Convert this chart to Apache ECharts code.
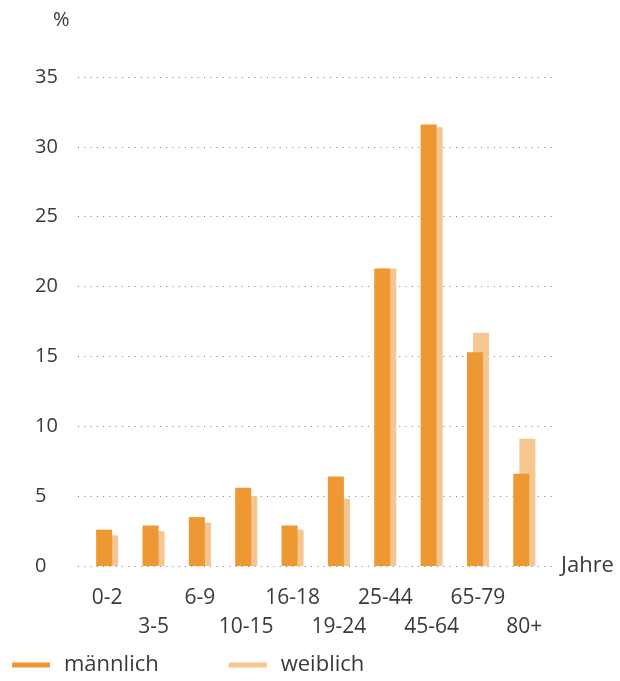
<!DOCTYPE html>
<html>
<head>
<meta charset="utf-8">
<script src="https://cdn.jsdelivr.net/npm/echarts@6/dist/echarts.min.js"></script>
<style>
  html, body { margin: 0; padding: 0; background: #fff; }
  #chart { width: 620px; height: 681px; }
</style>
</head>
<body>
<div id="chart"></div>
<script>
// Altersgruppen (Jahre)
const categories = ['0-2', '3-5', '6-9', '10-15', '16-18', '19-24', '25-44', '45-64', '65-79', '80+'];
// Anteile in %
const maleShares   = [2.6, 2.9, 3.5, 5.6, 2.9, 6.4, 21.3, 31.6, 15.3, 6.6];
const femaleShares = [2.2, 2.5, 3.1, 5.0, 2.6, 4.8, 21.3, 31.4, 16.7, 9.1];
const seriesNames = ['männlich', 'weiblich'];
const yMin = 0, yMax = 35, yStep = 5;

const FONT = '"Open Sans", "Noto Sans", sans-serif';
const TEXT = '#3a3a3a';
const MALE = '#EE9834';
const FEMALE = '#F6C690';

const chart = echarts.init(document.getElementById('chart'), null, { renderer: 'canvas' });

chart.setOption({
  animation: false,
  backgroundColor: '#ffffff',
  textStyle: { fontFamily: FONT },
  graphic: [{
    type: 'text', left: 53, top: 10,
    style: { text: '%', fontSize: 20, fontFamily: FONT, fill: TEXT }
  }],
  legend: {
    left: 12, top: 654, padding: 0,
    itemWidth: 38, itemHeight: 5, itemGap: 70,
    icon: 'rect',
    textStyle: { fontSize: 22, color: TEXT, fontFamily: FONT, padding: [0, 0, 0, 9] },
    data: seriesNames
  },
  grid: [
    // background grid: dotted gridlines and value labels
    { left: 78, right: 67, top: 77, bottom: 115 },
    // bars
    { left: 84, right: 72.5, top: 77, bottom: 115 }
  ],
  xAxis: [
    {
      type: 'category', gridIndex: 0, data: categories,
      axisLine: { show: false }, axisTick: { show: false }, axisLabel: { show: false },
      name: 'Jahre', nameLocation: 'end', nameGap: 8,
      nameTextStyle: { fontSize: 22, color: TEXT, fontFamily: FONT, verticalAlign: 'middle' }
    },
    {
      type: 'category', gridIndex: 1, data: categories,
      axisLine: { show: false }, axisTick: { show: false },
      axisLabel: {
        interval: 0, margin: 18, fontSize: 21, color: TEXT, fontFamily: FONT,
        lineHeight: 29, verticalAlign: 'top',
        formatter: (v, i) => (i % 2 === 1 ? '\n' + v : v)
      }
    }
  ],
  yAxis: [
    {
      type: 'value', gridIndex: 0, min: yMin, max: yMax, interval: yStep,
      axisLine: { show: false }, axisTick: { show: false },
      axisLabel: { align: 'left', margin: 43, fontSize: 20, color: TEXT, fontFamily: FONT },
      splitLine: { show: true, lineStyle: { color: '#7a7a7a', width: 1, type: [1, 5.3] } }
    },
    {
      type: 'value', gridIndex: 1, min: yMin, max: yMax, interval: yStep,
      axisLine: { show: false }, axisTick: { show: false },
      axisLabel: { show: false }, splitLine: { show: false }
    }
  ],
  series: [
    {
      name: seriesNames[0], type: 'bar', xAxisIndex: 1, yAxisIndex: 1,
      data: maleShares, barWidth: 16, barGap: '-62%', z: 4,
      itemStyle: { color: MALE }
    },
    {
      name: seriesNames[1], type: 'bar', xAxisIndex: 1, yAxisIndex: 1,
      data: femaleShares, barWidth: 16, z: 3,
      itemStyle: { color: FEMALE }
    }
  ]
});
</script>
</body>
</html>
